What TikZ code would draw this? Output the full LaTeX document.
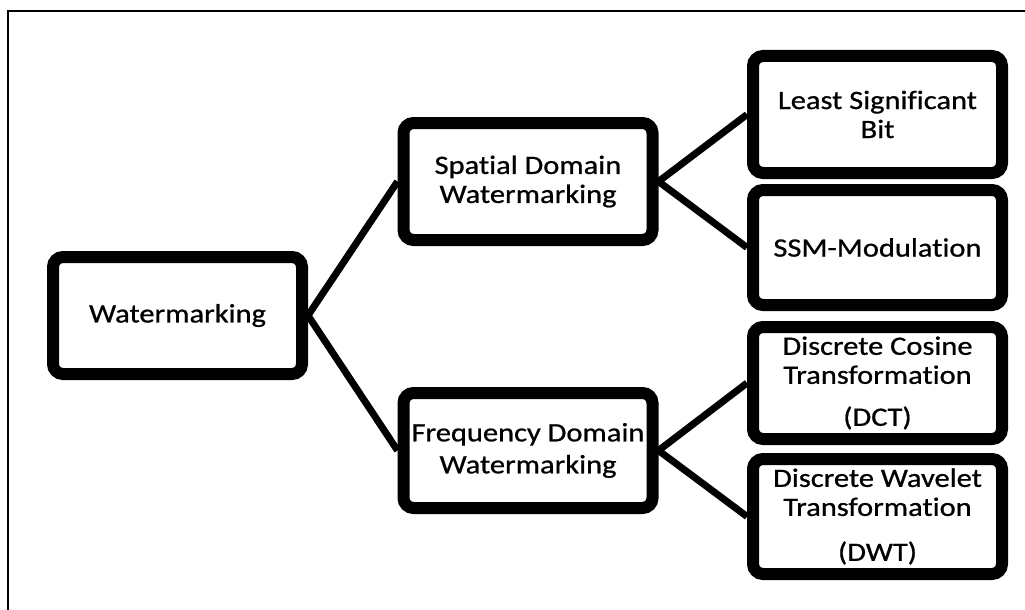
\documentclass[tikz,border=0pt]{standalone}
\usepackage{fontspec}
\setmainfont{Carlito}[FakeStretch=1.15, FakeBold=0.8, Ligatures=NoCommon]
\begin{document}
\begin{tikzpicture}[x=1pt,y=-1pt,
  box/.style={draw=black, line width=12pt, rounded corners=10pt, fill=white,
    minimum width=249pt, minimum height=117pt, inner sep=0pt, align=center,
    font=\fontsize{26.5}{29}\selectfont},
  link/.style={draw=black, line width=7pt}]
\useasboundingbox (0,0) rectangle (1025,610);
% thin outer frame (top and left edges)
\draw[line width=2pt] (8,612) -- (8,11) -- (1027,11);

% level 1
\node[box] (wm) at (177.5,315.5) {Watermarking};
% level 2
\node[box] (sp) at (528,181.5) {Spatial Domain\\Watermarking};
\node[box, minimum height=115pt] (fr) at (528,450.5) {Frequency Domain\\[3pt]Watermarking};
% level 3
\node[box] (lsb) at (877.5,114.5) {Least Significant\\Bit};
\node[box, minimum height=115pt] (ssm) at (877.5,247.5) {SSM-Modulation};
\node[box, minimum height=112pt] (dct) at (877.5,383) {Discrete Cosine\\Transformation\\[13pt](DCT)};
\node[box, minimum height=115pt] (dwt) at (877.5,516.5) {Discrete Wavelet\\Transformation\\[16pt](DWT)};

% connectors
\draw[link] (wm.east) -- (sp.west);
\draw[link] (wm.east) -- (fr.west);
\draw[link] (sp.east) -- (lsb.west);
\draw[link] (sp.east) -- (ssm.west);
\draw[link] (fr.east) -- (dct.west);
\draw[link] (fr.east) -- (dwt.west);
\end{tikzpicture}
\end{document}
